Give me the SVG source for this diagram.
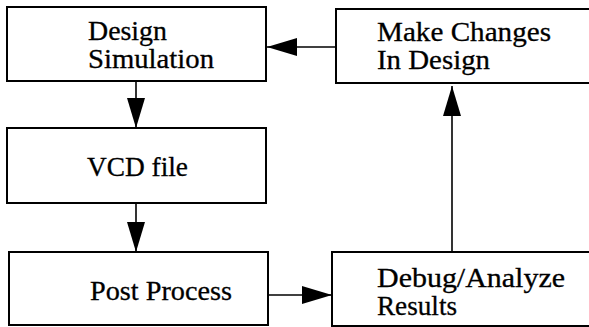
<svg xmlns="http://www.w3.org/2000/svg" width="589" height="327" viewBox="0 0 589 327">
<style>
.box{fill:#fff;stroke:#000;stroke-width:2}
.lbl{font-family:"Liberation Serif","Times New Roman",serif;font-size:27px;fill:#000;stroke:#000;stroke-width:0.3}
.conn{stroke:#000;stroke-width:1.6;fill:none}
</style>
<defs>
<marker id="ah" markerUnits="userSpaceOnUse" markerWidth="31" markerHeight="19" refX="30" refY="9" orient="auto">
<path d="M0,0 L30,9 L0,18 z" fill="#000"/>
</marker>
</defs>
<rect width="589" height="327" fill="#fff"/>
<g id="sim">
<rect class="box" x="7" y="7" width="259" height="74"/>
<text class="lbl" x="88" y="40" textLength="79" lengthAdjust="spacingAndGlyphs">Design</text>
<text class="lbl" x="88" y="68" textLength="126" lengthAdjust="spacingAndGlyphs">Simulation</text>
</g>
<g id="vcd">
<rect class="box" x="7" y="128" width="259" height="75"/>
<text class="lbl" x="87" y="176" textLength="101" lengthAdjust="spacingAndGlyphs">VCD file</text>
</g>
<g id="post">
<rect class="box" x="9" y="252" width="259" height="73"/>
<text class="lbl" x="90" y="300" textLength="142" lengthAdjust="spacingAndGlyphs">Post Process</text>
</g>
<g id="debug">
<rect class="box" x="332" y="252" width="270" height="74"/>
<text class="lbl" x="377" y="287" textLength="188" lengthAdjust="spacingAndGlyphs">Debug/Analyze</text>
<text class="lbl" x="377" y="315" textLength="80" lengthAdjust="spacingAndGlyphs">Results</text>
</g>
<g id="changes">
<rect class="box" x="336" y="9" width="270" height="74"/>
<text class="lbl" x="377" y="41" textLength="174" lengthAdjust="spacingAndGlyphs">Make Changes</text>
<text class="lbl" x="377" y="69" textLength="113" lengthAdjust="spacingAndGlyphs">In Design</text>
</g>
<g id="connectors">
<line class="conn" x1="136" y1="82" x2="136" y2="128" marker-end="url(#ah)"/>
<line class="conn" x1="136" y1="204" x2="136" y2="252" marker-end="url(#ah)"/>
<line class="conn" x1="269" y1="295" x2="332" y2="295" marker-end="url(#ah)"/>
<line class="conn" x1="452" y1="251" x2="452" y2="86" marker-end="url(#ah)"/>
<line class="conn" x1="335" y1="47" x2="267" y2="47" marker-end="url(#ah)"/>
</g>
</svg>
